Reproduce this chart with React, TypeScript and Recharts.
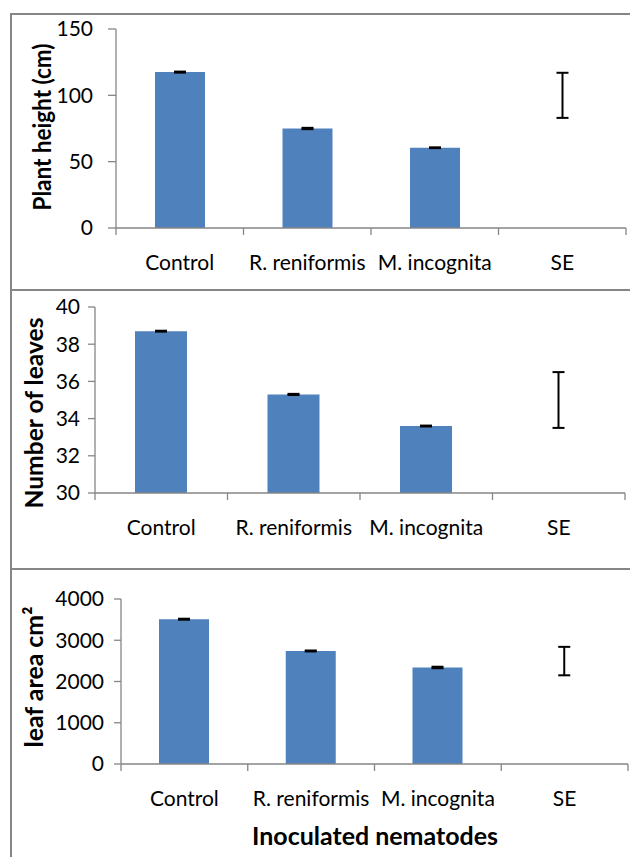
import React from 'react';
import { BarChart, Bar, XAxis, YAxis, ErrorBar, Cell, Label } from 'recharts';

const categories = ['Control', 'R. reniformis', 'M. incognita', 'SE'];
const plantHeight = [117.5, 75, 60.5, 100];
const plantHeightErr = [0.4, 0.5, 0.3, 17];
const leaves = [38.7, 35.3, 33.6, 35];
const leavesErr = [0.025, 0.03, 0.025, 1.5];
const leafArea = [3510, 2740, 2340, 2495];
const leafAreaErr = [12, 12, 18, 345];

const heightTicks = [0, 50, 100, 150];
const leavesTicks = [30, 32, 34, 36, 38, 40];
const areaTicks = [0, 1000, 2000, 3000, 4000];

const FONT = 'Lato, "Liberation Sans", sans-serif';
const BAR = '#4F81BD';
const AXIS = '#868686';

const build = (vals: number[], errs: number[]) =>
  categories.map((c, i) => ({ name: c, value: vals[i], err: errs[i] }));

type PanelProps = {
  top: number;
  height: number;
  margin: { top: number; right: number; bottom: number; left: number };
  yWidth: number;
  data: { name: string; value: number; err: number }[];
  domain: [number, number];
  ticks: number[];
  yTickSize: number;
  yTickMargin: number;
  barSize: number;
  plotLeft: number;
  plotRight: number;
  yLabel: React.ReactNode;
  yLabelLen: number;
  yLabelX: number;
  yLabelY: number;
  xTitle?: string;
  xTitleX?: number;
  xTitleY?: number;
};

const Panel = (p: PanelProps) => {
  const cw = (p.plotRight - p.plotLeft) / categories.length;
  const renderXTick = (props: any) => {
    const { x, y, payload, index, visibleTicksCount } = props;
    return (
      <g>
        <line x1={x - cw / 2} y1={y} x2={x - cw / 2} y2={y + 7} stroke={AXIS} strokeWidth={1.3} />
        {index === (visibleTicksCount ?? categories.length) - 1 && (
          <line x1={x + cw / 2} y1={y} x2={x + cw / 2} y2={y + 7} stroke={AXIS} strokeWidth={1.3} />
        )}
        <text x={x} y={y + 27} dy="0.71em" textAnchor="middle" fill="#000" fontSize={21} fontFamily={FONT}>
          {payload.value}
        </text>
      </g>
    );
  };
  return (
    <div style={{ position: 'absolute', left: 0, top: p.top }}>
      <BarChart width={630} height={p.height} data={p.data} margin={p.margin}>
        <XAxis
          dataKey="name"
          height={40}
          tickSize={0}
          tickMargin={0}
          tickLine={false}
          axisLine={{ stroke: AXIS, strokeWidth: 1.3 }}
          tick={renderXTick}
          interval={0}
        >
          {p.xTitle && (
            <Label
              content={() => (
                <text
                  x={p.xTitleX}
                  y={p.xTitleY}
                  textAnchor="middle"
                  dominantBaseline="central"
                  fontSize={24}
                  fontWeight="bold"
                  fontFamily={FONT}
                  fill="#000"
                  textLength={246}
                  lengthAdjust="spacingAndGlyphs"
                >
                  {p.xTitle}
                </text>
              )}
            />
          )}
        </XAxis>
        <YAxis
          width={p.yWidth}
          domain={p.domain}
          ticks={p.ticks}
          interval={0}
          allowDataOverflow
          tickSize={p.yTickSize}
          tickMargin={p.yTickMargin}
          tickLine={{ stroke: AXIS, strokeWidth: 1.3 }}
          axisLine={{ stroke: AXIS, strokeWidth: 1.3 }}
          tick={{ fill: '#000', fontSize: 21, fontFamily: FONT }}
        >
          <Label
            content={() => (
              <text
                x={p.yLabelX}
                y={p.yLabelY}
                transform={`rotate(-90, ${p.yLabelX}, ${p.yLabelY})`}
                textAnchor="middle"
                dominantBaseline="central"
                fontSize={24}
                fontWeight="bold"
                fontFamily={FONT}
                fill="#000"
                textLength={p.yLabelLen}
                lengthAdjust="spacingAndGlyphs"
              >
                {p.yLabel}
              </text>
            )}
          />
        </YAxis>
        <Bar dataKey="value" barSize={p.barSize} isAnimationActive={false}>
          {p.data.map((d, i) => (
            <Cell key={d.name} fill={i === categories.length - 1 ? 'transparent' : BAR} />
          ))}
          <ErrorBar dataKey="err" width={6} stroke="#000" strokeWidth={2} isAnimationActive={false} />
        </Bar>
      </BarChart>
    </div>
  );
};

export default function App() {
  const border = (style: React.CSSProperties) => (
    <div style={{ position: 'absolute', background: AXIS, ...style }} />
  );
  return (
    <div style={{ position: 'absolute', left: 0, top: 0, width: 630, height: 857, background: '#fff', overflow: 'hidden' }}>
      {border({ left: 10, top: 13, width: 640, height: 2 })}
      {border({ left: 10, top: 289, width: 640, height: 2 })}
      {border({ left: 10, top: 568, width: 640, height: 2 })}
      {border({ left: 10, top: 13, width: 2, height: 860 })}
      <Panel
        top={0}
        height={290}
        margin={{ top: 29, right: 4, bottom: 22, left: 56 }}
        yWidth={60}
        data={build(plantHeight, plantHeightErr)}
        domain={[0, 150]}
        ticks={heightTicks}
        yTickSize={8}
        yTickMargin={15}
        barSize={50}
        plotLeft={116}
        plotRight={626}
        yLabel="Plant height (cm)"
        yLabelLen={167}
        yLabelX={41}
        yLabelY={127}
      />
      <Panel
        top={290}
        height={279}
        margin={{ top: 17, right: 5, bottom: 36, left: 35 }}
        yWidth={60}
        data={build(leaves, leavesErr)}
        domain={[30, 40]}
        ticks={leavesTicks}
        yTickSize={7}
        yTickMargin={8}
        barSize={52}
        plotLeft={95}
        plotRight={625}
        yLabel="Number of leaves"
        yLabelLen={191}
        yLabelX={33}
        yLabelY={123}
      />
      <Panel
        top={569}
        height={288}
        margin={{ top: 30, right: 2, bottom: 53, left: 61 }}
        yWidth={60}
        data={build(leafArea, leafAreaErr)}
        domain={[0, 4000]}
        ticks={areaTicks}
        yTickSize={7}
        yTickMargin={10}
        barSize={50}
        plotLeft={121}
        plotRight={628}
        yLabel={<>leaf area cm<tspan fontSize={24}>²</tspan></>}
        yLabelLen={141}
        yLabelX={33}
        yLabelY={108}
        xTitle="Inoculated nematodes"
        xTitleX={375}
        xTitleY={266}
      />
    </div>
  );
}
